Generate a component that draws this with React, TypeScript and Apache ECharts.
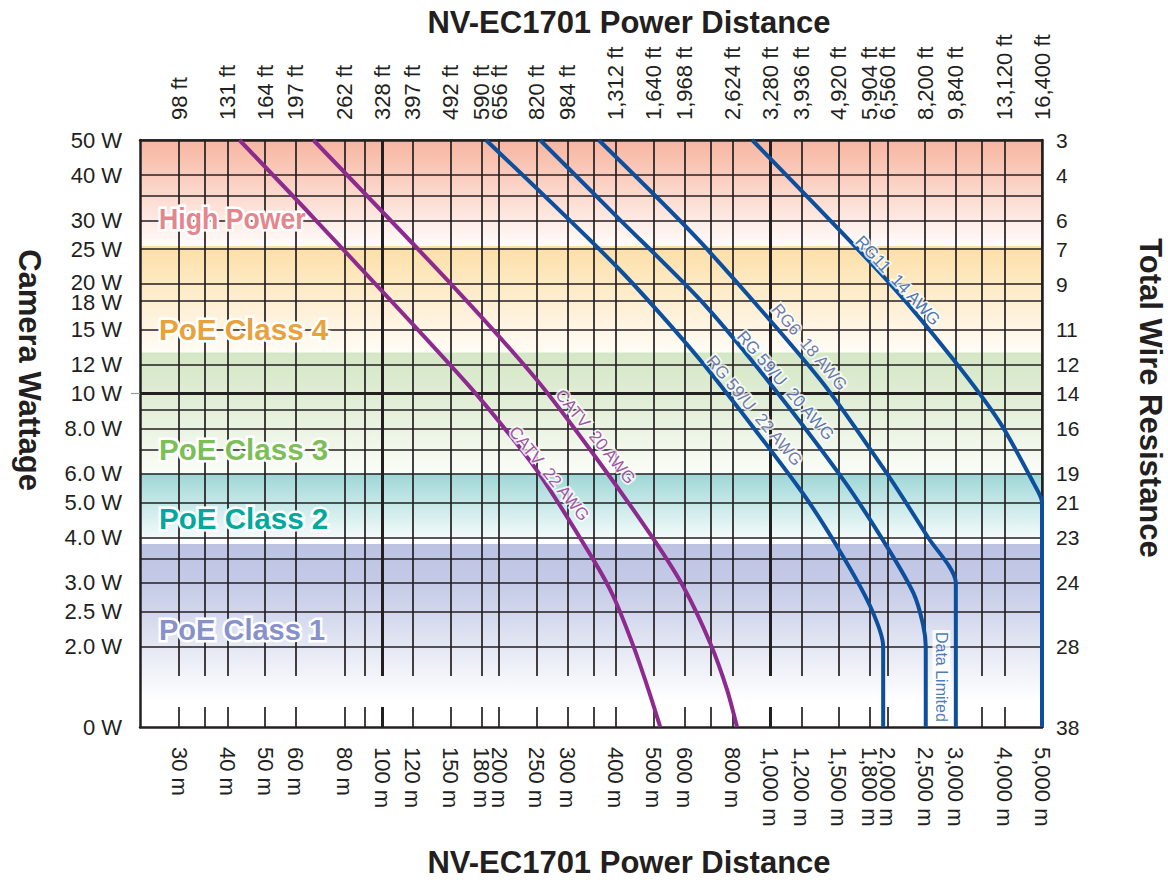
import React, { useEffect, useRef } from 'react';
import * as echarts from 'echarts';

// ---------- data ----------
// axis floor that stands for the "0 W" row of the chart
const ZERO_W = 1.2;
const X_MIN = 23.8;
const X_MAX = 5000;
const Y_MAX = 50;

const METER_TICKS = [30, 40, 50, 60, 80, 100, 120, 150, 180, 200, 250, 300, 400, 500, 600, 800, 1000, 1200, 1500, 1800, 2000, 2500, 3000, 4000, 5000];
const FEET_LABELS = ['98 ft', '131 ft', '164 ft', '197 ft', '262 ft', '328 ft', '397 ft', '492 ft', '590 ft', '656 ft', '820 ft', '984 ft', '1,312 ft', '1,640 ft', '1,968 ft', '2,624 ft', '3,280 ft', '3,936 ft', '4,920 ft', '5,904 ft', '6,560 ft', '8,200 ft', '9,840 ft', '13,120 ft', '16,400 ft'];
const METER_GRID = [30, 35, 40, 50, 60, 80, 90, 100, 120, 150, 180, 200, 250, 300, 350, 400, 500, 600, 700, 800, 1000, 1200, 1500, 1800, 2000, 2500, 3000, 3500, 4000, 5000];
const METER_GRID_BOLD = [100, 1000];

const WATT_TICKS = [50, 40, 30, 25, 20, 18, 15, 12, 10, 8, 6, 5, 4, 3, 2.5, 2, ZERO_W];
const WATT_LABELS = ['50 W', '40 W', '30 W', '25 W', '20 W', '18 W', '15 W', '12 W', '10 W', '8.0 W', '6.0 W', '5.0 W', '4.0 W', '3.0 W', '2.5 W', '2.0 W', '0 W'];
const WATT_GRID = [50, 40, 35, 30, 25, 20, 18, 15, 12, 10, 9, 8, 7, 6, 5, 4, 3.5, 3, 2.5, 2];
const WATT_GRID_BOLD = [10];
const WATT_OUTER_TICK = [10];

const RES_WATTS = [50, 40, 30, 25, 20, 15, 12, 10, 8, 6, 5, 4, 3, 2, ZERO_W];
const RES_LABELS = ['3', '4', '6', '7', '9', '11', '12', '14', '16', '19', '21', '23', '24', '28', '38'];

// curves: [meters, watts]
const CATV_22 = [[42.9, 50], [66.4, 30.6], [168.5, 10.4], [250, 6.14], [350, 3.47], [394, 2.75], [444, 2], [485, 1.52], [520, ZERO_W]];
const CATV_20 = [[66.5, 50], [152.6, 19.7], [250, 10.9], [357, 6.6], [495, 4.02], [597, 2.92], [700, 2.04], [773, 1.52], [820, ZERO_W]];
const RG59_22 = [[185, 50], [406, 22.1], [659, 12.35], [1194, 5.41], [1513, 3.65], [1807, 2.58], [1950, 2], [1950, ZERO_W]];
const RG59_20 = [[255, 50], [406, 30.4], [659, 18.1], [980, 10.9], [1542, 5.76], [1996, 3.77], [2337, 2.8], [2470, 2.3], [2510, 2], [2510, ZERO_W]];
const RG6_18 = [[361, 50], [659, 26.2], [1343, 10.9], [1995, 6], [2545, 4], [3000, 3], [3000, ZERO_W]];
const RG11_14 = [[897, 50], [1995, 20.5], [2963, 12.35], [3908, 8.26], [4761, 5.64], [5000, 5], [5000, ZERO_W]];

const CURVE_NAMES = ['CATV 22 AWG', 'CATV 20 AWG', 'RG 59/U 22 AWG', 'RG 59/U 20 AWG', 'RG6 18 AWG', 'RG11 14 AWG'];
const CURVE_LABELS = ['CATV  22 AWG', 'CATV  20 AWG', 'RG 59/U  22 AWG', 'RG 59/U  20 AWG', 'RG6  18 AWG', 'RG11  14 AWG'];
const CURVE_LABEL_AT = [[269, 6.0], [354, 7.59], [908, 8.95], [1092, 10.5], [1259, 13.4], [2125, 20.45]];
const NOTE_TEXT = 'Data Limited';
const NOTE_AT = [2754, 1.65];

const BAND_NAMES = ['High Power', 'PoE Class 4', 'PoE Class 3', 'PoE Class 2', 'PoE Class 1'];
const BAND_TOP_W = [50, 25.5, 12.95, 6, 3.84];
const BAND_BOTTOM_W = [25.5, 12.95, 6, 4, ZERO_W];

// ---------- styles ----------
const FONT = '"Liberation Sans", Arial, Helvetica, sans-serif';
const INK = '#231f20';
const PURPLE = '#8c2a8e';
const BLUE = '#0d4f9d';
const CURVE_COLORS = [PURPLE, PURPLE, BLUE, BLUE, BLUE, BLUE];
const CURVE_LABEL_COLORS = [PURPLE, PURPLE, '#4d5b95', '#2f57a0', '#4d5b95', '#1c58a4'];
const CURVE_LABEL_ROT = [-51, -51, -50, -49, -50, -47];
const BAND_STOPS = [
  [[0, '#f7b5a0'], [0.5, '#fcd8cc'], [1, '#fffcfb']],
  [[0, '#fddfa6'], [0.55, '#feefd4'], [1, '#fffcf6']],
  [[0, '#d4e7c5'], [0.45, '#e3efd9'], [1, '#fbfdf8']],
  [[0, '#9ed6d6'], [0.5, '#c9e9e9'], [1, '#f3fafa']],
  [[0, '#bcc3e2'], [0.2, '#c4cae6'], [0.38, '#d2d7ed'], [0.56, '#e4e7f3'], [0.73, '#f4f5fa'], [0.86, '#ffffff']],
];
const BAND_LABEL_COLORS = ['#e3868d', '#e8a23c', '#7dbf57', '#00a99d', '#8892ca'];
const BAND_LABEL_Y = [219, 330, 450, 519, 630];
const BAND_LABEL_SCALE = [0.92, 1.02, 1.02, 1.02, 1.0];

const GRID_LEFT = 140;
const GRID_TOP = 140;
const GRID_W = 902;
const GRID_H = 587;
const UPPER_TICK = 536;
const LOWER_TICK = 20;

const nearestIndex = (values: number[], v: number) => {
  let best = 0;
  let d = Infinity;
  values.forEach((x, i) => {
    const dd = Math.abs(Math.log(x) - Math.log(v));
    if (dd < d) {
      d = dd;
      best = i;
    }
  });
  return best;
};
const nearest = (values: number[], labels: string[]) => (v: number) => labels[nearestIndex(values, v)];

const fmtMeters = (v: number) => Math.round(v).toLocaleString('en-US') + ' m';

function buildOption() {
  const labelBase = { fontSize: 22, color: INK, fontFamily: FONT };
  const logX = {
    type: 'log',
    logBase: 10,
    min: X_MIN,
    max: X_MAX,
    z: 3,
    splitLine: { show: false },
    minorTick: { show: false },
    minorSplitLine: { show: false },
  };
  const logY = {
    type: 'log',
    logBase: 10,
    min: ZERO_W,
    max: Y_MAX,
    z: 3,
    splitLine: { show: false },
    minorTick: { show: false },
    minorSplitLine: { show: false },
  };
  const borderLine = { show: true, onZero: false, lineStyle: { color: INK, width: 2.5 } };
  const gridLine = { color: INK, width: 1.7 };
  const boldLine = { color: INK, width: 3 };

  const wattFormatter = (v: number) => {
    const i = nearestIndex(WATT_TICKS, v);
    const text = WATT_LABELS[i];
    if (WATT_TICKS[i] === 20) return `{up|${text}}`;
    if (WATT_TICKS[i] === 18) return `{down|${text}}`;
    return text;
  };

  const xAxis = [
    {
      ...logX,
      position: 'bottom',
      axisLine: borderLine,
      axisTick: { show: true, inside: true, length: LOWER_TICK, customValues: METER_GRID, lineStyle: gridLine },
      axisLabel: { ...labelBase, show: true, customValues: METER_TICKS, formatter: fmtMeters, rotate: -90, margin: 20, lineHeight: 18 },
    },
    {
      ...logX,
      position: 'top',
      axisLine: borderLine,
      axisTick: { show: true, inside: true, length: UPPER_TICK, customValues: METER_GRID, lineStyle: gridLine },
      axisLabel: { ...labelBase, show: true, customValues: METER_TICKS, formatter: nearest(METER_TICKS, FEET_LABELS), rotate: -90, margin: 20, lineHeight: 18 },
    },
    {
      ...logX,
      position: 'top',
      axisLine: { show: false, onZero: false },
      axisTick: { show: true, inside: true, length: UPPER_TICK, customValues: METER_GRID_BOLD, lineStyle: boldLine },
      axisLabel: { show: false },
    },
    {
      ...logX,
      position: 'bottom',
      axisLine: { show: false, onZero: false },
      axisTick: { show: true, inside: true, length: LOWER_TICK, customValues: METER_GRID_BOLD, lineStyle: boldLine },
      axisLabel: { show: false },
    },
  ];

  const yAxis = [
    {
      ...logY,
      position: 'left',
      axisLine: borderLine,
      axisTick: { show: true, inside: true, length: GRID_W, customValues: WATT_GRID, lineStyle: gridLine },
      axisLabel: {
        ...labelBase,
        show: true,
        customValues: WATT_TICKS,
        formatter: wattFormatter,
        margin: 18,
        lineHeight: 16,
        rich: {
          up: { ...labelBase, lineHeight: 16, padding: [0, 0, 4, 0] },
          down: { ...labelBase, lineHeight: 16, padding: [3, 0, 0, 0] },
        },
      },
    },
    {
      ...logY,
      position: 'right',
      axisLine: borderLine,
      axisTick: { show: false },
      axisLabel: { ...labelBase, fontSize: 21, show: true, customValues: RES_WATTS, formatter: nearest(RES_WATTS, RES_LABELS), margin: 14, lineHeight: 16 },
    },
    {
      ...logY,
      position: 'left',
      axisLine: { show: false, onZero: false },
      axisTick: { show: true, inside: true, length: GRID_W, customValues: WATT_GRID_BOLD, lineStyle: boldLine },
      axisLabel: { show: false },
    },
    {
      ...logY,
      position: 'left',
      axisLine: { show: false, onZero: false },
      axisTick: { show: true, inside: false, length: 9, customValues: WATT_OUTER_TICK, lineStyle: { color: '#9a9a9a', width: 1.2 } },
      axisLabel: { show: false },
    },
  ];

  const curves = [CATV_22, CATV_20, RG59_22, RG59_20, RG6_18, RG11_14];

  const bandArea = {
    silent: true,
    z: 1,
    label: { show: false },
    data: BAND_NAMES.map((name, i) => [
      {
        name,
        yAxis: BAND_TOP_W[i],
        itemStyle: {
          color: {
            type: 'linear',
            x: 0,
            y: 0,
            x2: 0,
            y2: 1,
            colorStops: BAND_STOPS[i].map(([offset, color]) => ({ offset, color })),
          },
        },
      },
      { yAxis: BAND_BOTTOM_W[i] },
    ]),
  };

  const series: any[] = curves.map((data, i) => ({
    type: 'line',
    name: CURVE_NAMES[i],
    data,
    xAxisIndex: 0,
    yAxisIndex: 0,
    showSymbol: false,
    symbol: 'none',
    smooth: 0.25,
    clip: false,
    z: 5,
    silent: true,
    lineStyle: { color: CURVE_COLORS[i], width: 4 },
    itemStyle: { color: CURVE_COLORS[i] },
    ...(i === 0 ? { markArea: bandArea } : {}),
  }));

  series.push({
    type: 'scatter',
    name: 'labels',
    xAxisIndex: 0,
    yAxisIndex: 0,
    symbolSize: 1,
    z: 6,
    silent: true,
    itemStyle: { color: 'rgba(0,0,0,0)' },
    data: [
      ...CURVE_LABELS.map((text, i) => ({
        name: text,
        value: CURVE_LABEL_AT[i],
        label: {
          show: true,
          position: 'inside',
          formatter: '{b}',
          rotate: CURVE_LABEL_ROT[i],
          fontSize: 17,
          fontFamily: FONT,
          color: CURVE_LABEL_COLORS[i],
          textBorderColor: '#ffffff',
          textBorderWidth: 3.5,
        },
      })),
      {
        name: NOTE_TEXT,
        value: NOTE_AT,
        label: {
          show: true,
          position: 'inside',
          formatter: '{b}',
          rotate: -90,
          fontSize: 16,
          fontFamily: FONT,
          color: '#1c58a4',
          backgroundColor: '#ffffff',
          padding: [1, 2, 1, 2],
        },
      },
    ],
  });

  const titleFont = `bold 31px ${FONT}`;
  const graphic: any[] = [
    {
      type: 'text',
      x: 629,
      y: 22,
      z: 10,
      style: { text: 'NV-EC1701 Power Distance', font: titleFont, fill: INK, align: 'center', verticalAlign: 'middle', textAlign: 'center', textVerticalAlign: 'middle' },
    },
    {
      type: 'text',
      x: 629,
      y: 862,
      z: 10,
      style: { text: 'NV-EC1701 Power Distance', font: titleFont, fill: INK, align: 'center', verticalAlign: 'middle', textAlign: 'center', textVerticalAlign: 'middle' },
    },
    {
      type: 'text',
      x: 29,
      y: 370,
      rotation: -Math.PI / 2,
      z: 10,
      style: { text: 'Camera Wattage', font: titleFont, fill: INK, align: 'center', verticalAlign: 'middle', textAlign: 'center', textVerticalAlign: 'middle' },
    },
    {
      type: 'text',
      x: 1150,
      y: 398,
      rotation: -Math.PI / 2,
      z: 10,
      style: { text: 'Total Wire Resistance', font: titleFont, fill: INK, align: 'center', verticalAlign: 'middle', textAlign: 'center', textVerticalAlign: 'middle' },
    },
    ...BAND_NAMES.map((name, i) => ({
      type: 'text',
      x: 159,
      y: BAND_LABEL_Y[i],
      scaleX: BAND_LABEL_SCALE[i],
      z: 4,
      style: {
        text: name,
        font: `bold 29px ${FONT}`,
        fill: BAND_LABEL_COLORS[i],
        stroke: '#ffffff',
        lineWidth: 5,
        align: 'left',
        verticalAlign: 'middle',
        textAlign: 'left',
        textVerticalAlign: 'middle',
      },
    })),
  ];

  return {
    animation: false,
    backgroundColor: '#ffffff',
    grid: {
      left: GRID_LEFT,
      top: GRID_TOP,
      width: GRID_W,
      height: GRID_H,
      containLabel: false,
      outerBoundsMode: 'none',
    },
    xAxis,
    yAxis,
    series,
    graphic,
  };
}

export default function App() {
  const ref = useRef<HTMLDivElement>(null);
  useEffect(() => {
    if (!ref.current) return;
    const chart = echarts.init(ref.current, undefined, { renderer: 'svg' });
    chart.setOption(buildOption() as any);
    return () => chart.dispose();
  }, []);
  return (
    <div
      ref={ref}
      style={{ position: 'fixed', left: 0, top: 0, width: 1168, height: 880, background: '#ffffff' }}
    />
  );
}
